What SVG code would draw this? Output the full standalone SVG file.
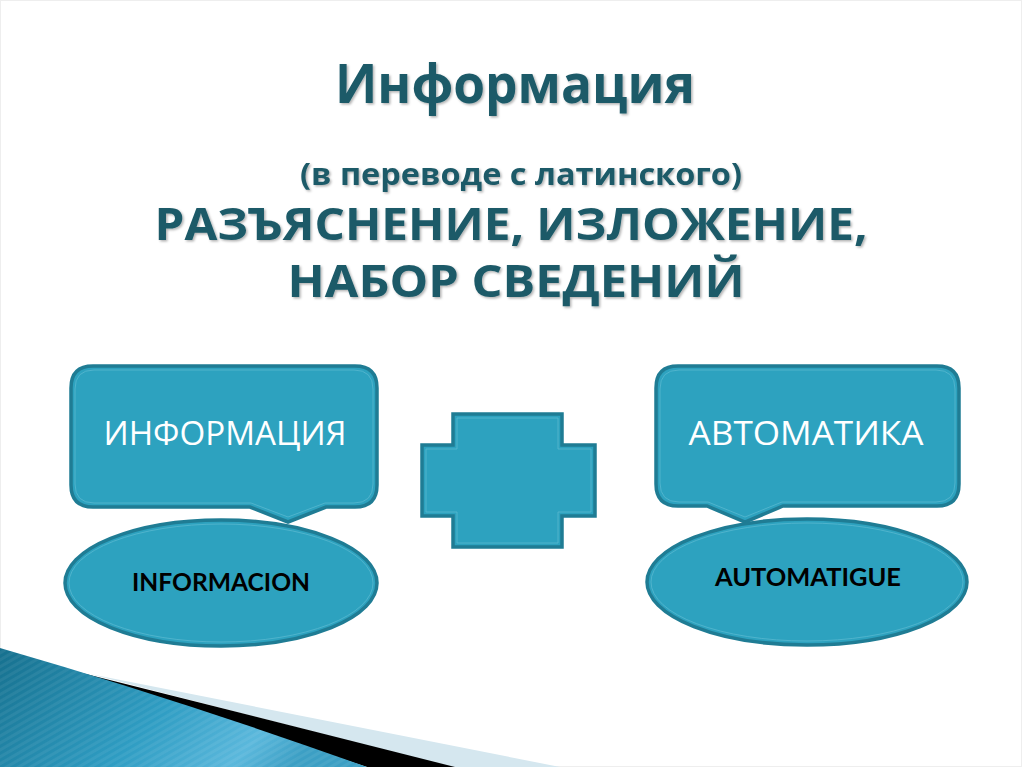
<svg xmlns="http://www.w3.org/2000/svg" width="1024" height="767" viewBox="0 0 1024 767">
<defs>
<style>
.hd{fill:#1d5a68;font-family:"Open Sans","DejaVu Sans",sans-serif;font-weight:700;text-anchor:middle}
.shape{fill:#2da2bf;stroke:#1f7c94;stroke-width:3.5}
.inner{fill:none;stroke:#58b8cf;stroke-width:1;opacity:0.8}
.wl{fill:#ffffff;font-family:"Open Sans","Liberation Sans",sans-serif;font-size:32px;text-anchor:middle}
.bl{fill:#000000;font-family:"Lato","Open Sans",sans-serif;font-weight:700;font-size:25px;text-anchor:middle}
</style>
<filter id="sh" x="-5%" y="-20%" width="110%" height="140%">
<feDropShadow dx="1.5" dy="1.5" stdDeviation="1" flood-color="#000" flood-opacity="0.3"/>
</filter>
<linearGradient id="bg" x1="0" y1="0" x2="1" y2="0.3">
<stop offset="0" stop-color="#16708e"/>
<stop offset="0.55" stop-color="#2f9dc3"/>
<stop offset="0.85" stop-color="#5bb8dc"/>
<stop offset="1" stop-color="#3c9fc4"/>
</linearGradient>
<pattern id="stripes" width="6" height="6" patternUnits="userSpaceOnUse" patternTransform="rotate(-30)">
<rect width="6" height="3" fill="#ffffff" opacity="0.06"/>
</pattern>
</defs>
<rect width="1024" height="767" fill="#ffffff"/>
<rect x="0.5" y="0.5" width="1021" height="766" fill="none" stroke="#eeeeee" stroke-width="1"/>

<g id="bottom-decoration">
<path d="M90,674 L560,767 L450,767 Z" fill="#d5e7ef"/>
<path d="M62,668 L455,767 L367,767 Z" fill="#000000"/>
<path d="M0,648 Q180,700 367,767 L0,767 Z" fill="url(#bg)"/>
<path d="M0,648 Q180,700 367,767 L0,767 Z" fill="url(#stripes)"/>
</g>

<g id="title" filter="url(#sh)">
<text class="hd" x="515" y="103" font-size="54" font-weight="600" textLength="360" lengthAdjust="spacingAndGlyphs">Информация</text>
<text class="hd" x="521" y="185" font-size="30" textLength="442" lengthAdjust="spacingAndGlyphs">(в переводе с латинского)</text>
<text class="hd" x="511" y="240" font-size="45" textLength="713" lengthAdjust="spacingAndGlyphs">РАЗЪЯСНЕНИЕ, ИЗЛОЖЕНИЕ,</text>
<text class="hd" x="516" y="297" font-size="45" textLength="457" lengthAdjust="spacingAndGlyphs">НАБОР СВЕДЕНИЙ</text>
</g>

<g id="node-informatsiya">
<path class="shape" d="M93,366 H355 Q377,366 377,388 V485 Q377,507 355,507 H326 L288,522 L250,507 H93 Q71,507 71,485 V388 Q71,366 93,366 Z"/>
<path class="inner" d="M94,370 H354 Q373,370 373,389 V484 Q373,503 354,503 H325 L288,517 L251,503 H94 Q75,503 75,484 V389 Q75,370 94,370 Z"/>
<text class="wl" x="225" y="445" textLength="243" lengthAdjust="spacingAndGlyphs">ИНФОРМАЦИЯ</text>
</g>

<g id="node-informacion">
<ellipse class="shape" cx="221" cy="583" rx="156" ry="63"/>
<ellipse class="inner" cx="221" cy="583" rx="152" ry="59"/>
<text class="bl" x="221" y="591" textLength="178" lengthAdjust="spacingAndGlyphs">INFORMACION</text>
</g>

<g id="node-plus">
<path class="shape" d="M453,414 H562 V445 H595 V516 H562 V547 H453 V516 H422 V445 H453 Z"/>
<path class="inner" d="M457,418 H558 V449 H591 V512 H558 V543 H457 V512 H426 V449 H457 Z"/>
</g>

<g id="node-avtomatika">
<path class="shape" d="M678,366 H937 Q959,366 959,388 V484 Q959,506 937,506 H783 L745,522 L707,506 H678 Q656,506 656,484 V388 Q656,366 678,366 Z"/>
<path class="inner" d="M679,370 H936 Q955,370 955,389 V483 Q955,502 936,502 H782 L745,517 L708,502 H679 Q660,502 660,483 V389 Q660,370 679,370 Z"/>
<text class="wl" x="806" y="445" textLength="235" lengthAdjust="spacingAndGlyphs">АВТОМАТИКА</text>
</g>

<g id="node-automatigue">
<ellipse class="shape" cx="807" cy="582" rx="160" ry="63"/>
<ellipse class="inner" cx="807" cy="582" rx="156" ry="59"/>
<text class="bl" x="808" y="586" textLength="186" lengthAdjust="spacingAndGlyphs">AUTOMATIGUE</text>
</g>

<g id="connectors"></g>
</svg>
